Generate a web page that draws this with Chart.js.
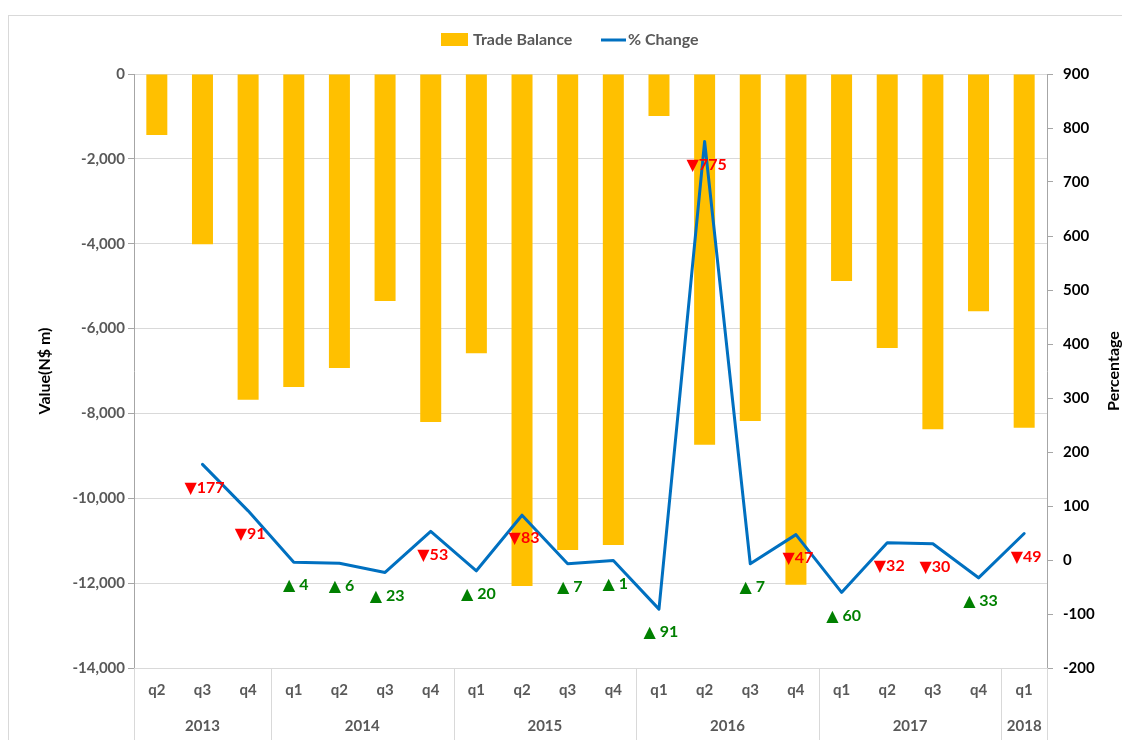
<!DOCTYPE html>
<html>
<head>
<meta charset="utf-8">
<script src="https://cdn.jsdelivr.net/npm/chart.js@4.4.1/dist/chart.umd.min.js"></script>
<style>
html,body{margin:0;padding:0;background:#fff;}
#frame{position:absolute;left:8px;top:15px;width:1130px;height:740px;border:1px solid #d9d9d9;box-sizing:border-box;}
#wrap{position:absolute;left:0;top:0;width:1122px;height:740px;}
</style>
</head>
<body>
<div id="frame"></div>
<div id="wrap"><canvas id="c" width="1122" height="740"></canvas></div>
<script>
const quarters = ['q2','q3','q4','q1','q2','q3','q4','q1','q2','q3','q4','q1','q2','q3','q4','q1','q2','q3','q4','q1'];
const years = ['2013','2014','2015','2016','2017','2018'];
const yearSizes = [3,4,4,4,4,1];
const tradeBalance = [-1440,-4010,-7680,-7380,-6930,-5350,-8200,-6580,-12070,-11220,-11100,-990,-8740,-8180,-12040,-4880,-6460,-8370,-5590,-8340];
const pctChange = [null,177,91,-4,-6,-23,53,-20,83,-7,-1,-91,775,-7,47,-60,32,30,-33,49];

const FONT = "Lato, 'DejaVu Sans', sans-serif";
const GRAY = '#595959';

// year group centers / boundaries (derived from group sizes)
const yearCenters = [];
const boundaries = [0];
let acc = 0;
yearSizes.forEach(n => { yearCenters.push(acc + n/2); acc += n; boundaries.push(acc); });

const extras = {
  id: 'extras',
  afterDatasetsDraw(chart) {
    const ctx = chart.ctx;
    const meta = chart.getDatasetMeta(0);
    ctx.save();
    ctx.font = "bold 16px " + FONT;
    ctx.textAlign = 'center';
    ctx.textBaseline = 'middle';
    meta.data.forEach((pt, i) => {
      const v = pctChange[i];
      if (v === null) return;
      let txt, col;
      if (v >= 0) { txt = '\u25BC' + Math.abs(v); col = '#FF0000'; }
      else { txt = '\u25B2 ' + Math.abs(v); col = '#008000'; }
      ctx.fillStyle = col;
      ctx.fillText(txt, pt.x + 2, pt.y + 23);
    });
    ctx.restore();
  },
  afterDraw(chart) {
    const ctx = chart.ctx;
    const xs = chart.scales.x;
    const half = (xs.getPixelForValue(1) - xs.getPixelForValue(0)) / 2;
    ctx.save();
    // year separators
    ctx.strokeStyle = '#d9d9d9';
    ctx.lineWidth = 1;
    boundaries.forEach(b => {
      const x = Math.round(xs.getPixelForValue(b) - half) + 0.5;
      ctx.beginPath();
      ctx.moveTo(x, chart.chartArea.bottom);
      ctx.lineTo(x, 740);
      ctx.stroke();
    });
    // legend
    ctx.font = "bold 16px " + FONT;
    ctx.textBaseline = 'middle';
    ctx.textAlign = 'left';
    ctx.fillStyle = '#FFC000';
    ctx.fillRect(441, 33, 27, 13);
    ctx.fillStyle = GRAY;
    ctx.fillText('Trade Balance', 473, 40);
    ctx.strokeStyle = '#0070C0';
    ctx.lineWidth = 3;
    ctx.beginPath(); ctx.moveTo(601, 40); ctx.lineTo(626, 40); ctx.stroke();
    ctx.fillText('% Change', 628, 40);
    // axis titles
    ctx.fillStyle = '#000';
    ctx.font = "bold 16px " + FONT;
    ctx.textAlign = 'center';
    const cy = (chart.chartArea.top + chart.chartArea.bottom) / 2;
    ctx.save(); ctx.translate(45, cy); ctx.rotate(-Math.PI/2); ctx.fillText('Value(N$ m)', 0, 0); ctx.restore();
    ctx.save(); ctx.translate(1114, cy); ctx.rotate(-Math.PI/2); ctx.fillText('Percentage', 0, 0); ctx.restore();
    ctx.restore();
  }
};

new Chart(document.getElementById('c'), {
  data: {
    labels: quarters,
    datasets: [
      { type: 'line', label: '% Change', data: pctChange, yAxisID: 'y1', xAxisID: 'x',
        borderColor: '#0070C0', backgroundColor: '#0070C0', borderWidth: 3, pointRadius: 0,
        borderJoinStyle: 'round', borderCapStyle: 'round', tension: 0, order: 0 },
      { type: 'bar', label: 'Trade Balance', data: tradeBalance, yAxisID: 'y', xAxisID: 'x',
        backgroundColor: '#FFC000', borderWidth: 0, barPercentage: 0.46, categoryPercentage: 1, order: 1 }
    ]
  },
  options: {
    responsive: false,
    animation: false,
    layout: { padding: { top: 74, left: 0, right: 0, bottom: 0 } },
    plugins: { legend: { display: false }, tooltip: { enabled: false } },
    scales: {
      y: {
        position: 'left', min: -14000, max: 0,
        afterFit: s => { s.width = 134; },
        ticks: { stepSize: 2000, color: GRAY, font: { family: FONT, size: 15, weight: 'bold' }, padding: 3,
          callback: v => Number(v).toLocaleString('en-US') },
        grid: { color: '#d9d9d9', tickColor: '#a6a6a6', tickLength: 6, drawTicks: true },
        border: { color: '#a6a6a6', width: 1 }
      },
      y1: {
        position: 'right', min: -200, max: 900,
        afterFit: s => { s.width = 1122 - 1047; },
        ticks: { stepSize: 100, color: '#000', font: { family: FONT, size: 15, weight: 'bold' }, padding: 10 },
        grid: { drawOnChartArea: false, tickColor: '#a6a6a6', tickLength: 6 },
        border: { color: '#a6a6a6', width: 1 }
      },
      x: {
        type: 'category', position: 'bottom', offset: true,
        afterFit: s => { s.height = 42; },
        ticks: { color: GRAY, font: { family: FONT, size: 15, weight: 'bold' }, padding: 13, maxRotation: 0, autoSkip: false },
        grid: { display: false, drawTicks: false },
        border: { color: '#d9d9d9' }
      },
      xYear: {
        type: 'linear', position: 'bottom', min: 0, max: boundaries[boundaries.length-1],
        afterFit: s => { s.height = 30; },
        afterBuildTicks: s => { s.ticks = yearCenters.map(v => ({ value: v })); },
        ticks: { color: GRAY, font: { family: FONT, size: 15, weight: 'bold' }, padding: 7, maxRotation: 0, autoSkip: false,
          callback: (v, i) => years[i] },
        grid: { display: false, drawTicks: false },
        border: { display: false }
      }
    }
  },
  plugins: [extras]
});
</script>
</body>
</html>
